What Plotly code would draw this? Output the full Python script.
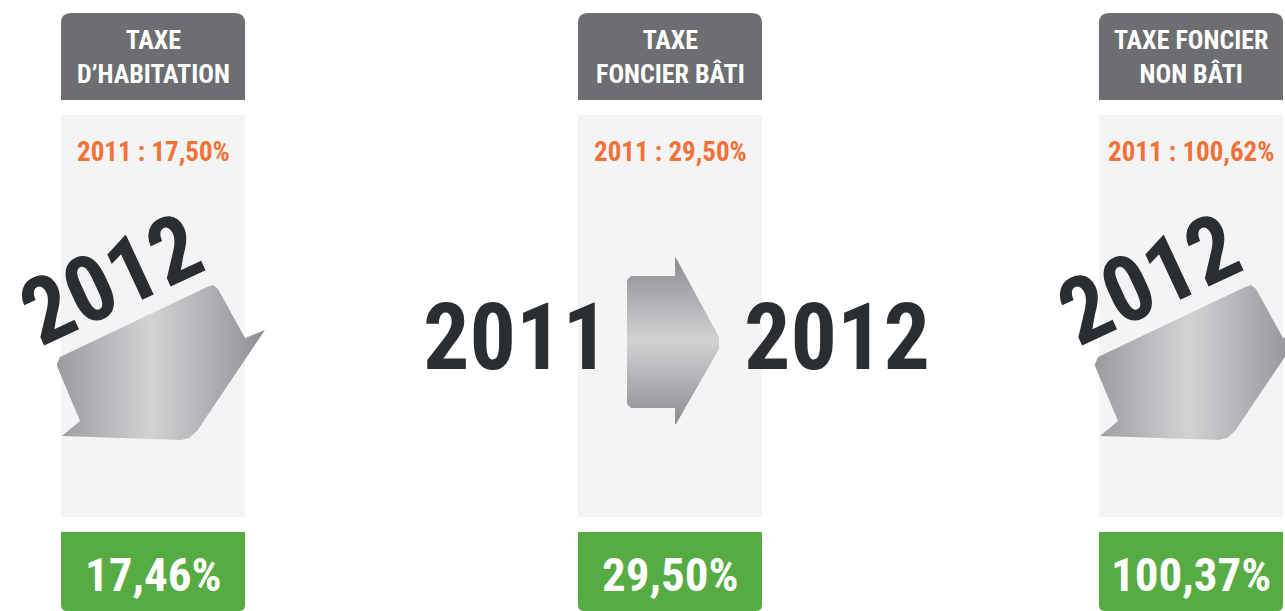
import plotly.graph_objects as go

# ---- data ----
categories = ["TAXE<br>D’HABITATION", "TAXE<br>FONCIER BÂTI", "TAXE FONCIER<br>NON BÂTI"]
rates_2011 = [17.50, 29.50, 100.62]
rates_2012 = [17.46, 29.50, 100.37]
year_from = "2011"
year_to = "2012"

# ---- layout constants ----
W, H = 1285, 611
PANEL_X = [61, 578, 1099]
PANEL_W = 184
FONT = "Roboto Condensed, Open Sans Condensed, DejaVu Sans Condensed, sans-serif"
DARK = "#2b2e31"
HEADER = "#6d6e71"
LIGHT = "#f4f4f4"
ORANGE = "#f07238"
GREEN = "#56ab42"


def fr(v):
    return f"{v:.2f}".replace(".", ",") + "%"


# relative arrow outlines (x relative to panel left, y absolute)
DOWN_ARROW = [(-4, 364), (-1, 357), (146, 287), (152, 285), (157, 289), (184, 338), (204, 330),
              (136, 431), (128, 438), (120, 440), (1, 436), (19, 421), (-4, 366)]
FLAT_ARROW = [(53, 276), (97, 276), (97, 258), (98, 258), (141, 337), (141, 349), (98, 424), (97, 424),
              (97, 408), (53, 408), (49, 404), (49, 280), (53, 276)]

fig = go.Figure()
shapes = []
annotations = []

for i, cat in enumerate(categories):
    x0 = PANEL_X[i]
    x1 = x0 + PANEL_W
    xc = x0 + PANEL_W / 2
    r = 10
    # header box with rounded top corners
    shapes.append(dict(type="path", xref="x", yref="y", layer="below",
                       path=f"M {x0},100 L {x0},{13+r} Q {x0},13 {x0+r},13 L {x1-r},13 Q {x1},13 {x1},{13+r} L {x1},100 Z",
                       fillcolor=HEADER, line=dict(width=0)))
    # light column
    shapes.append(dict(type="rect", xref="x", yref="y", layer="below",
                       x0=x0, x1=x1, y0=115, y1=517, fillcolor=LIGHT, line=dict(width=0)))
    # green box with rounded bottom corners
    rb = 6
    shapes.append(dict(type="path", xref="x", yref="y", layer="below",
                       path=f"M {x0},532 L {x1},532 L {x1},{611-rb} Q {x1},611 {x1-rb},611 L {x0+rb},611 Q {x0},611 {x0},{611-rb} Z",
                       fillcolor=GREEN, line=dict(width=0)))

    annotations.append(dict(x=xc, y=57, text=cat, showarrow=False, xref="x", yref="y",
                            font=dict(family=FONT, size=26, color="white", weight="bold")))
    annotations.append(dict(x=xc, y=152, text=f"{year_from} : {fr(rates_2011[i])}", showarrow=False,
                            xref="x", yref="y",
                            font=dict(family=FONT, size=27, color=ORANGE, weight="bold")))
    annotations.append(dict(x=xc, y=574, text=fr(rates_2012[i]), showarrow=False, xref="x", yref="y",
                            font=dict(family=FONT, size=47, color="white", weight="bold")))

    if rates_2012[i] < rates_2011[i]:
        xs = [x0 + p[0] for p in DOWN_ARROW]
        ys = [p[1] for p in DOWN_ARROW]
        fig.add_trace(go.Scatter(x=xs, y=ys, mode="lines", fill="toself", line=dict(width=0),
                                 fillgradient=dict(type="horizontal",
                                                   colorscale=[[0, "#9a9b9e"], [0.45, "#d2d3d5"], [1, "#8e8f92"]]),
                                 hoverinfo="skip", showlegend=False))
        annotations.append(dict(x=x0 + 50, y=279, text=year_to, textangle=-25, showarrow=False,
                                xref="x", yref="y",
                                font=dict(family=FONT, size=92, color=DARK, weight="bold")))
    else:
        xs = [x0 + p[0] for p in FLAT_ARROW]
        ys = [p[1] for p in FLAT_ARROW]
        fig.add_trace(go.Scatter(x=xs, y=ys, mode="lines", fill="toself", line=dict(width=0),
                                 fillgradient=dict(type="vertical",
                                                   colorscale=[[0, "#8c8d90"], [0.5, "#d1d2d4"], [1, "#8c8d90"]]),
                                 hoverinfo="skip", showlegend=False))
        annotations.append(dict(x=516, y=337, text=year_from, showarrow=False, xref="x", yref="y",
                                font=dict(family=FONT, size=92, color=DARK, weight="bold")))
        annotations.append(dict(x=837, y=337, text=year_to, showarrow=False, xref="x", yref="y",
                                font=dict(family=FONT, size=92, color=DARK, weight="bold")))

fig.update_layout(
    width=W, height=H, margin=dict(l=0, r=0, t=0, b=0),
    paper_bgcolor="white", plot_bgcolor="white",
    xaxis=dict(range=[0, W], visible=False, fixedrange=True),
    yaxis=dict(range=[H, 0], visible=False, fixedrange=True),
    shapes=shapes, annotations=annotations, showlegend=False,
)
fig.write_html("out.html", config={"displayModeBar": False},
               post_script="document.body.style.margin='0px';")
